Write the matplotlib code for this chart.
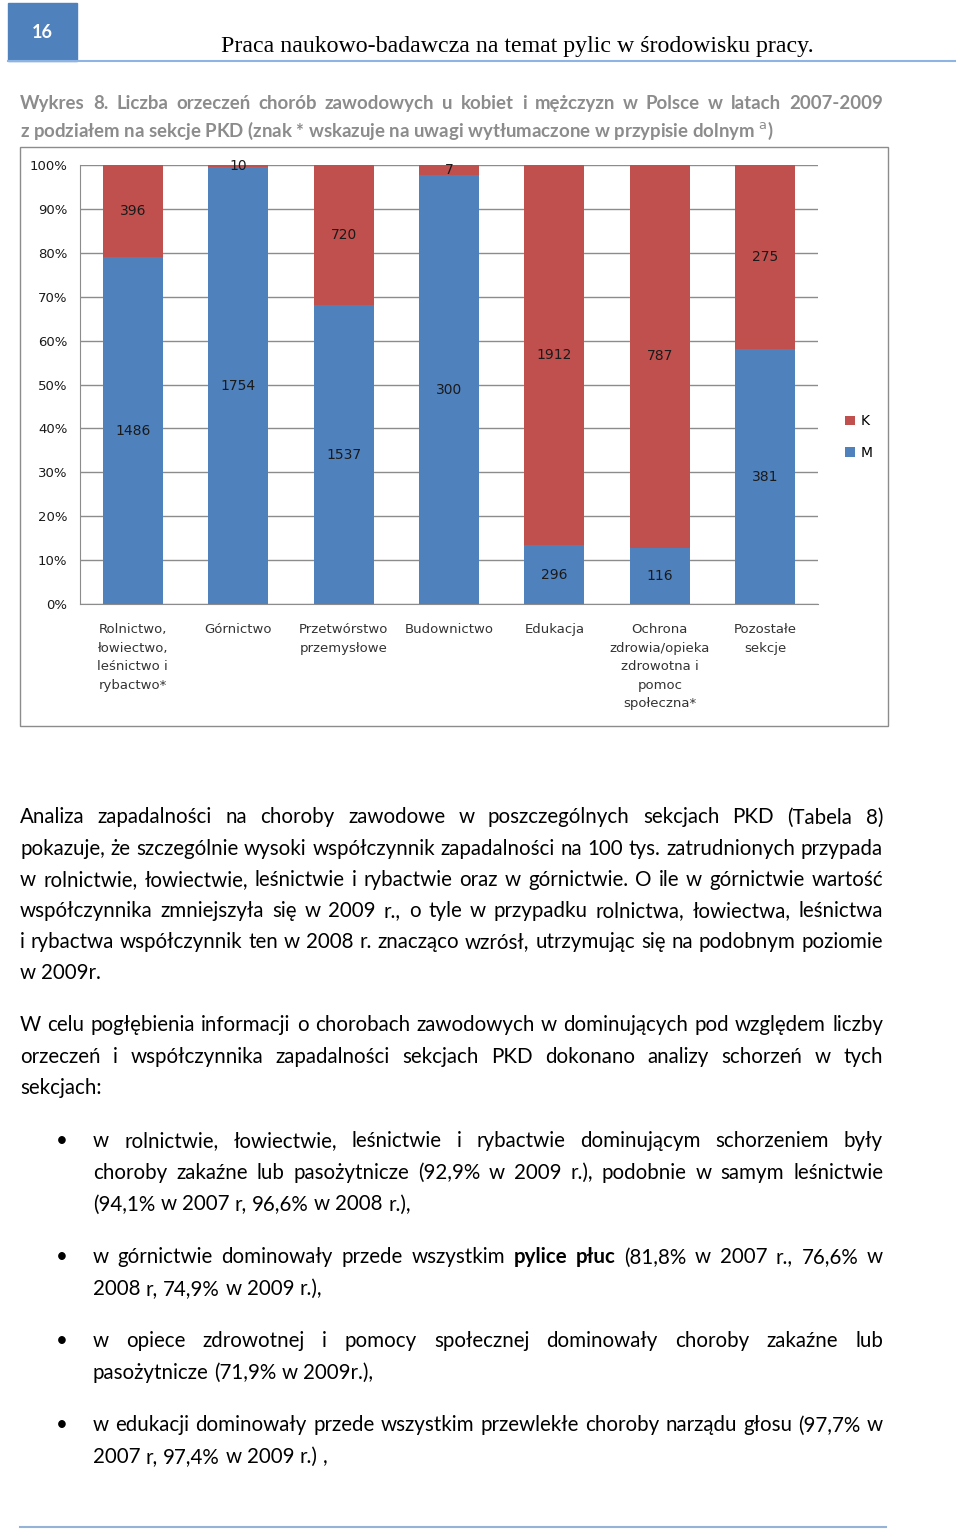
import matplotlib
matplotlib.use('Agg')
import matplotlib.pyplot as plt
from matplotlib.patches import Rectangle
from matplotlib.lines import Line2D

# --- data ---
categories = ['Rolnictwo,\nłowiectwo,\nleśnictwo i\nrybactwo*', 'Górnictwo',
              'Przetwórstwo\nprzemysłowe', 'Budownictwo', 'Edukacja',
              'Ochrona\nzdrowia/opieka\nzdrowotna i\npomoc\nspołeczna*',
              'Pozostałe\nsekcje']
men = [1486, 1754, 1537, 300, 296, 116, 381]      # M
women = [396, 10, 720, 7, 1912, 787, 275]         # K
ytick_vals = [0, 10, 20, 30, 40, 50, 60, 70, 80, 90, 100]
ytick_labels = [f'{v}%' for v in ytick_vals]

header_num = '16'
header_title = 'Praca naukowo-badawcza na temat pylic w środowisku pracy.'
caption = ['Wykres 8. Liczba orzeczeń chorób zawodowych u kobiet i mężczyzn w Polsce w latach 2007-2009',
           'z podziałem na sekcje PKD (znak * wskazuje na uwagi wytłumaczone w przypisie dolnym $^{\\mathrm{a}}$)']
para1 = ['Analiza zapadalności na choroby zawodowe w poszczególnych sekcjach PKD (Tabela 8)',
         'pokazuje, że szczególnie wysoki współczynnik zapadalności na 100 tys. zatrudnionych przypada',
         'w rolnictwie, łowiectwie, leśnictwie i rybactwie oraz w górnictwie. O ile w górnictwie wartość',
         'współczynnika zmniejszyła się w 2009 r., o tyle w przypadku rolnictwa, łowiectwa, leśnictwa',
         'i rybactwa współczynnik ten w 2008 r. znacząco wzrósł, utrzymując się na podobnym poziomie',
         'w 2009r.']
para2 = ['W celu pogłębienia informacji o chorobach zawodowych w dominujących pod względem liczby',
         'orzeczeń i współczynnika zapadalności sekcjach PKD dokonano analizy schorzeń w tych',
         'sekcjach:']
bullets = [
    ['w rolnictwie, łowiectwie, leśnictwie i rybactwie dominującym schorzeniem były',
     'choroby zakaźne lub pasożytnicze (92,9% w 2009 r.), podobnie w samym leśnictwie',
     '(94,1% w 2007 r, 96,6% w 2008 r.),'],
    ['w górnictwie dominowały przede wszystkim **pylice **płuc (81,8% w 2007 r., 76,6% w',
     '2008 r, 74,9% w 2009 r.),'],
    ['w opiece zdrowotnej i pomocy społecznej dominowały choroby zakaźne lub',
     'pasożytnicze (71,9% w 2009r.),'],
    ['w edukacji dominowały przede wszystkim przewlekłe choroby narządu głosu (97,7% w',
     '2007 r, 97,4% w 2009 r.) ,'],
]

BLUE = '#4F81BD'
RED = '#C0504D'
BODY = 'Lato'

W, H = 960, 1529
fig = plt.figure(figsize=(9.6, 15.29), dpi=100)
page = fig.add_axes([0, 0, 1, 1], zorder=0)
page.set_xlim(0, W)
page.set_ylim(H, 0)
page.axis('off')
page.patch.set_visible(False)
r = fig.canvas.get_renderer()


def tw(t):
    return t.get_window_extent(renderer=r).width


def put_line(line, x0, x1, y, size, justify, color='black', weight='normal', family=BODY):
    # y is the middle of the caps; words starting with ** are bold
    yb = y + 0.36 * size * 100 / 72
    words = line.split(' ')
    arts = []
    for w in words:
        wt = weight
        if w.startswith('**'):
            w = w[2:]
            wt = 'bold'
        arts.append(page.text(x0, yb, w, fontsize=size, color=color, fontweight=wt,
                              family=family, va='baseline', ha='left'))
    widths = [tw(a) for a in arts]
    probe1 = page.text(0, 0, 'x x', fontsize=size, family=family, fontweight=weight)
    probe2 = page.text(0, 0, 'xx', fontsize=size, family=family, fontweight=weight)
    space = tw(probe1) - tw(probe2)
    probe1.remove()
    probe2.remove()
    if justify and len(arts) > 1:
        gap = (x1 - x0 - sum(widths)) / (len(arts) - 1)
    else:
        gap = space
    x = x0
    for a, w in zip(arts, widths):
        a.set_x(x)
        x += w + gap


# --- header ---
page.add_patch(Rectangle((8, 3), 69, 58, color=BLUE))
page.text(42, 33, header_num, color='white', fontsize=13, fontweight='bold',
          family=BODY, ha='center', va='center')
page.add_line(Line2D([8, 955], [61, 61], color='#8EB4E3', lw=1.5))
page.text(221, 52, header_title, fontsize=17.2, family='Liberation Serif', va='baseline', ha='left')

# --- caption ---
cap_col = '#8C8C8C'
put_line(caption[0], 20, 883, 102, 13.4, True, color=cap_col, weight='bold')
page.text(20, 102 + 28.5 + 0.36 * 13.4 * 100 / 72, caption[1], fontsize=13.4, color=cap_col,
          fontweight='bold', family=BODY, va='baseline', ha='left')

# --- chart ---
page.add_patch(Rectangle((20, 147), 868, 579, fill=False, ec='#8C8C8C', lw=1))
ax = fig.add_axes([80 / W, 1 - 604 / H, 738 / W, 439 / H], zorder=2)
tot = [m + k for m, k in zip(men, women)]
pm = [100 * m / t for m, t in zip(men, tot)]
pk = [100 * k / t for k, t in zip(women, tot)]
xs = list(range(len(categories)))
bm = ax.bar(xs, pm, width=0.57, color=BLUE, label='M', zorder=2)
bk = ax.bar(xs, pk, width=0.57, bottom=pm, color=RED, label='K', zorder=2)
for i in xs:
    ax.text(i, pm[i] / 2, str(men[i]), ha='center', va='center', fontsize=10,
            color='#1a1a1a', family='DejaVu Sans', zorder=3)
    ax.text(i, pm[i] + pk[i] / 2, str(women[i]), ha='center', va='center', fontsize=10,
            color='#1a1a1a', family='DejaVu Sans', zorder=3)
ax.set_xlim(-0.5, 6.5)
ax.set_ylim(0, 100)
ax.set_yticks(ytick_vals)
ax.set_yticklabels(ytick_labels, fontsize=9.5, family='DejaVu Sans', color='#1a1a1a')
ax.set_xticks(xs)
ax.set_xticklabels(categories, fontsize=9.5, family='DejaVu Sans', color='#333333',
                   linespacing=1.55, va='top')
ax.tick_params(axis='both', length=0)
ax.tick_params(axis='y', pad=9)
ax.tick_params(axis='x', pad=14)
ax.grid(axis='y', color='#8C8C8C', lw=1, zorder=0)
for s in ['top', 'right']:
    ax.spines[s].set_visible(False)
for s in ['left', 'bottom']:
    ax.spines[s].set_color('#8C8C8C')
ax.legend(handles=[bk, bm], labels=['K', 'M'], loc='center left',
          bbox_to_anchor=(1.02, 0.38), frameon=False, fontsize=10,
          handlelength=0.7, handleheight=0.7, handletextpad=0.4, labelspacing=1.25)

# --- body text ---
SZ = 14.8
x0, x1 = 20, 883
for i, line in enumerate(para1):
    put_line(line, x0, x1, 816 + i * 31.2, SZ, i < len(para1) - 1)
for i, line in enumerate(para2):
    put_line(line, x0, x1, 1024 + i * 31.5, SZ, i < len(para2) - 1)

bullet_y = [1140, 1256, 1340, 1424]
for by, lines in zip(bullet_y, bullets):
    page.text(62, by + 1, '•', fontsize=SZ, family=BODY, va='center', ha='center')
    for j, line in enumerate(lines):
        put_line(line, 93, 883, by + j * 31.5, SZ, j < len(lines) - 1)

page.add_line(Line2D([20, 886], [1527, 1527], color='#95B3D7', lw=1.5))

fig.savefig('out.png', dpi=100)
